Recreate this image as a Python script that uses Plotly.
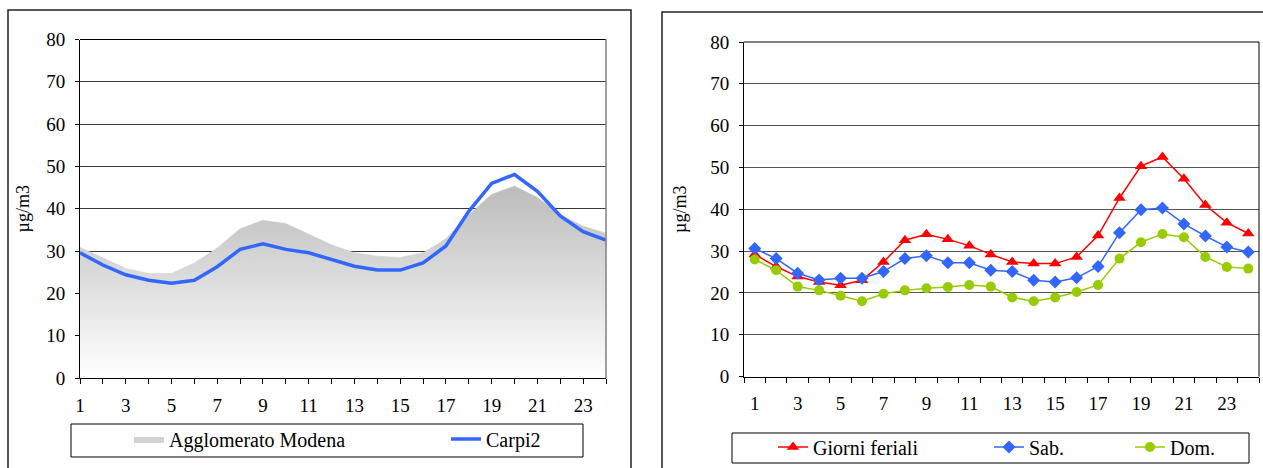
import plotly.graph_objects as go

# ---- data ----
hours = list(range(1, 25))
agglomerato_modena = [30.9, 28.4, 25.9, 24.7, 24.7, 27.2, 30.7, 35.3, 37.3, 36.5, 34.0, 31.5,
                      29.6, 28.8, 28.5, 29.6, 32.9, 38.6, 43.4, 45.4, 42.7, 38.6, 35.9, 34.2]
carpi2 = [29.6, 26.7, 24.4, 23.1, 22.4, 23.1, 26.3, 30.4, 31.7, 30.4, 29.6, 28.0,
          26.4, 25.5, 25.5, 27.2, 31.2, 39.4, 46.0, 48.1, 44.1, 38.3, 34.6, 32.6]
giorni_feriali = [29.2, 26.3, 23.9, 22.6, 21.8, 23.0, 27.4, 32.6, 34.0, 32.8, 31.3, 29.2,
                  27.4, 27.0, 27.0, 28.6, 33.7, 42.7, 50.3, 52.5, 47.3, 41.0, 36.8, 34.2]
sabato = [30.6, 28.2, 24.7, 23.1, 23.5, 23.5, 25.1, 28.2, 28.9, 27.2, 27.2, 25.4,
          25.1, 23.0, 22.6, 23.6, 26.3, 34.4, 39.9, 40.3, 36.5, 33.6, 31.0, 29.8]
domenica = [28.0, 25.4, 21.5, 20.6, 19.3, 18.0, 19.8, 20.6, 21.1, 21.4, 21.9, 21.5,
            18.9, 18.0, 18.9, 20.2, 21.9, 28.2, 32.1, 34.1, 33.3, 28.6, 26.2, 25.8]
y_ticks = [0, 10, 20, 30, 40, 50, 60, 70, 80]
x_labels = [str(h) if h % 2 == 1 else "" for h in hours]
odd_hours = [h for h in hours if h % 2 == 1]

W, H = 1263, 468
FONT = "Liberation Serif, Times New Roman, serif"


def px(x):
    return x / W


def py(y):
    return 1 - y / H


fig = go.Figure()

# left chart: shaded area (legend shown through a legend-only entry below)
fig.add_trace(go.Scatter(
    x=hours, y=agglomerato_modena, name="Agglomerato Modena", mode="lines",
    fill="tozeroy", line=dict(color="#cfcfcf", width=0.5), fillcolor="#c8c8c8",
    fillgradient=dict(type="vertical", colorscale=[[0, "#ffffff"], [1, "#bcbcbc"]],
                      start=0, stop=45),
    showlegend=False, xaxis="x", yaxis="y"))
fig.add_trace(go.Scatter(
    x=[None], y=[None], name="Agglomerato Modena", mode="lines",
    fill="toself", fillcolor="#d2d2d2", line=dict(color="#d2d2d2", width=0),
    showlegend=True, xaxis="x", yaxis="y", legend="legend6"))
fig.add_trace(go.Scatter(
    x=hours, y=carpi2, name="Carpi2", mode="lines",
    line=dict(color="#3366ff", width=3.5),
    xaxis="x", yaxis="y", legend="legend2"))

# right chart
fig.add_trace(go.Scatter(
    x=hours, y=giorni_feriali, name="Giorni feriali", mode="lines+markers",
    line=dict(color="#ff0000", width=1.5),
    marker=dict(symbol="triangle-up", size=11, color="#ff0000"),
    xaxis="x2", yaxis="y2", legend="legend3"))
fig.add_trace(go.Scatter(
    x=hours, y=sabato, name="Sab.", mode="lines+markers",
    line=dict(color="#3366ff", width=1.5),
    marker=dict(symbol="diamond", size=10, color="#3366ff"),
    xaxis="x2", yaxis="y2", legend="legend4"))
fig.add_trace(go.Scatter(
    x=hours, y=domenica, name="Dom.", mode="lines+markers",
    line=dict(color="#99cc00", width=1.5),
    marker=dict(symbol="circle", size=10, color="#99cc00"),
    xaxis="x2", yaxis="y2", legend="legend5"))

tickfont = dict(family=FONT, size=19, color="black")
axis_common = dict(showline=True, linecolor="black", linewidth=1, zeroline=False,
                   tickfont=tickfont, tickcolor="black", fixedrange=True, automargin=False)

fig.update_layout(
    template="none",
    width=W, height=H, margin=dict(l=0, r=0, t=0, b=0, pad=0, autoexpand=False),
    paper_bgcolor="white", plot_bgcolor="white",
    font=dict(family=FONT, size=19, color="black"),
    xaxis=dict(domain=[px(80), px(606)], range=[1, 24], tickmode="array",
               tickvals=hours, ticktext=x_labels, ticks="outside", ticklen=5,
               showgrid=False, ticklabelstandoff=5, anchor="y", **axis_common),
    yaxis=dict(domain=[py(378), py(39.5)], range=[0, 80], tickmode="array",
               tickvals=y_ticks, ticks="outside", ticklen=4, showgrid=True,
               gridcolor="#3a3a3a", gridwidth=1, ticklabelstandoff=6, anchor="x",
               title=dict(text="µg/m3", font=dict(family=FONT, size=18), standoff=11),
               **axis_common),
    xaxis2=dict(domain=[px(744), px(1259)], range=[0.5, 24.5], tickmode="array",
                tickvals=odd_hours, ticks="", showgrid=False, ticklabelstandoff=10,
                minor=dict(tickmode="array", tickvals=[h - 0.5 for h in hours] + [24.5],
                           ticks="outside", ticklen=5, tickcolor="black", showgrid=False),
                anchor="y2", **axis_common),
    yaxis2=dict(domain=[py(376.5), py(42)], range=[0, 80], tickmode="array",
                tickvals=y_ticks, ticks="outside", ticklen=4, showgrid=True,
                gridcolor="#555555", gridwidth=1, ticklabelstandoff=6, anchor="x2",
                title=dict(text="µg/m3", font=dict(family=FONT, size=18), standoff=18),
                **axis_common),
)

legend_font = dict(family=FONT, size=20, color="black")
leg_common = dict(orientation="h", xanchor="left", yanchor="middle",
                  bgcolor="rgba(0,0,0,0)", borderwidth=0, font=legend_font)
fig.update_layout(
    legend6=dict(x=px(129), y=py(439), **leg_common),
    legend2=dict(x=px(446), y=py(439), **leg_common),
    legend3=dict(x=px(773), y=py(447), **leg_common),
    legend4=dict(x=px(989), y=py(447), **leg_common),
    legend5=dict(x=px(1130), y=py(447), **leg_common),
)

shapes = [
    # outer chart borders
    dict(type="rect", xref="paper", yref="paper", x0=px(8), x1=px(631), y0=py(480), y1=py(10),
         line=dict(color="#222222", width=1.5)),
    dict(type="rect", xref="paper", yref="paper", x0=px(662), x1=px(1280), y0=py(480), y1=py(12),
         line=dict(color="#222222", width=1.5)),
    # plot area borders
    dict(type="line", xref="paper", yref="paper", x0=px(80), x1=px(606), y0=py(39.5), y1=py(39.5),
         line=dict(color="black", width=1)),
    dict(type="line", xref="paper", yref="paper", x0=px(606), x1=px(606), y0=py(378), y1=py(39.5),
         line=dict(color="#808080", width=1.5)),
    dict(type="line", xref="paper", yref="paper", x0=px(744), x1=px(1259), y0=py(42), y1=py(42),
         line=dict(color="black", width=1)),
    dict(type="line", xref="paper", yref="paper", x0=px(1259), x1=px(1259), y0=py(376.5), y1=py(42),
         line=dict(color="black", width=1)),
    # legend boxes
    dict(type="rect", xref="paper", yref="paper", x0=px(71), x1=px(583), y0=py(457), y1=py(424),
         line=dict(color="black", width=1)),
    dict(type="rect", xref="paper", yref="paper", x0=px(732), x1=px(1249), y0=py(463), y1=py(433),
         line=dict(color="black", width=1)),
]
fig.update_layout(shapes=shapes)

fig.write_html("out.html", config={"displayModeBar": False},
               post_script="document.body.style.margin='0';document.body.style.overflow='hidden';")
